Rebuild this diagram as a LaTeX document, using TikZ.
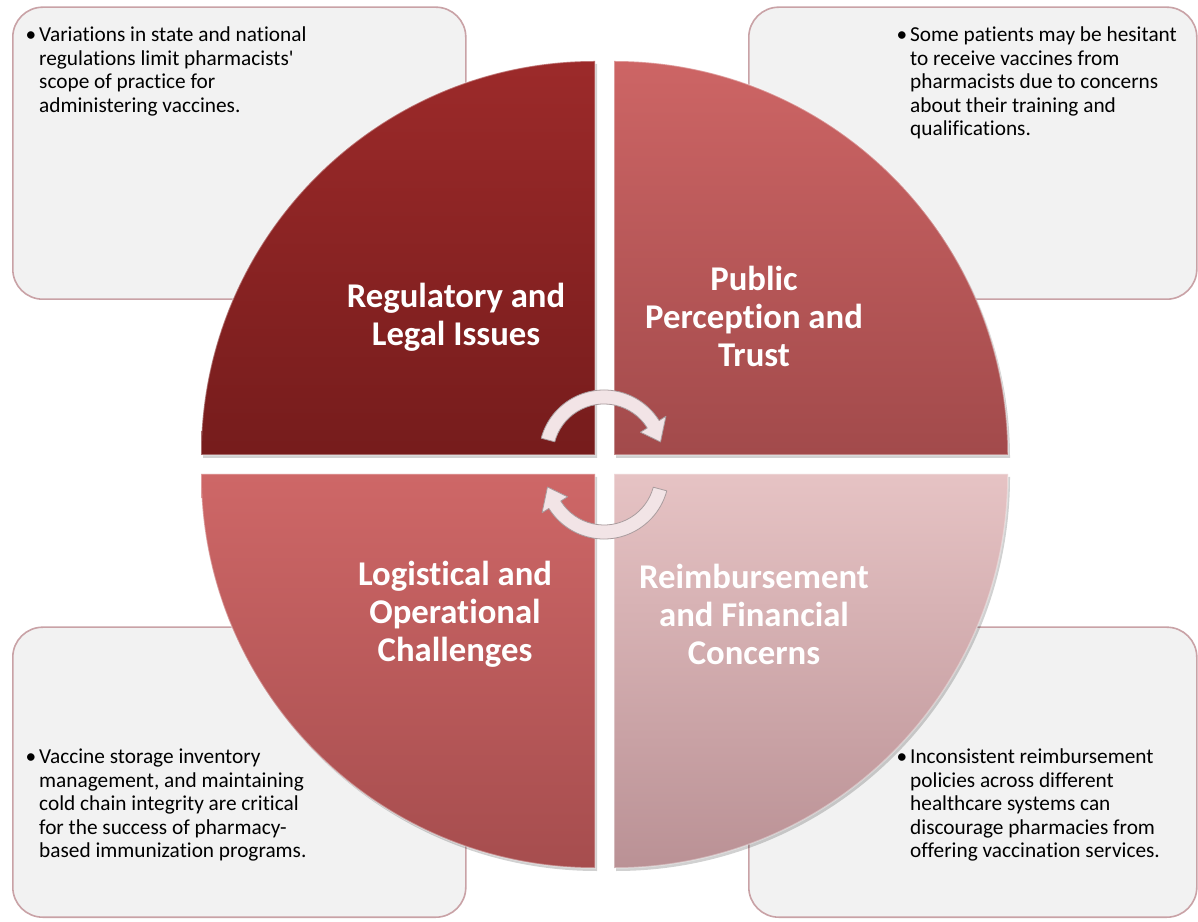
\documentclass[tikz,border=0pt]{standalone}
\usepackage{fontspec}
\setmainfont{Carlito}[Ligatures={TeX,NoCommon}]
\definecolor{boxfill}{HTML}{F2F2F2}
\definecolor{boxline}{HTML}{C9A2A6}
\definecolor{tlTop}{HTML}{9C2A2A}
\definecolor{tlBot}{HTML}{761C1C}
\definecolor{trTop}{HTML}{CD6565}
\definecolor{trBot}{HTML}{A24A4B}
\definecolor{blTop}{HTML}{CE6767}
\definecolor{blBot}{HTML}{A64D4E}
\definecolor{brTop}{HTML}{E6C3C4}
\definecolor{brBot}{HTML}{BA9195}
\definecolor{arrowfill}{HTML}{F2E4E6}
\definecolor{arrowline}{HTML}{A99C9E}
\begin{document}
\begin{tikzpicture}[x=1pt,y=1pt,
  infobox/.style={fill=boxfill, draw=boxline, line width=1.6pt, rounded corners=30pt,
    anchor=south west, inner sep=0pt},
  note/.style={anchor=north west, inner sep=0pt, align=left, text=black,
    font=\fontsize{21.3}{23.4}\selectfont},
  title/.style={align=center, text=white, font=\bfseries\fontsize{34.7}{38}\selectfont},
  quad/.style={draw=white, draw opacity=0.35, line width=1.5pt},
  qshadow/.style={fill=black, fill opacity=0.18},
  cyc/.style={fill=arrowfill, draw=arrowline, line width=0.8pt, line join=round}
]
\useasboundingbox (0,0) rectangle (1198,921);
\fill[white] (0,0) rectangle (1198,921);

% information panels in the four corners
\node[infobox, minimum width=453, minimum height=292] (boxTL) at (12,621) {};
\node[infobox, minimum width=448, minimum height=292] (boxTR) at (748,621) {};
\node[infobox, minimum width=453, minimum height=290] (boxBL) at (12,3) {};
\node[infobox, minimum width=448, minimum height=290] (boxBR) at (748,3) {};

% soft shadows under the four quarters
\fill[qshadow] (597,463) -- (203,463) arc[start angle=180, end angle=90, radius=394pt] -- cycle;
\fill[qshadow] (616,463) -- (616,857) arc[start angle=90, end angle=0, radius=394pt] -- cycle;
\fill[qshadow] (597,444) -- (203,444) arc[start angle=180, end angle=270, radius=394pt] -- cycle;
\fill[qshadow] (616,444) -- (1010,444) arc[start angle=0, end angle=-90, radius=394pt] -- cycle;

% the four quarters of the disc
\path[quad, top color=tlTop, bottom color=tlBot]
  (595,466) -- (201,466) arc[start angle=180, end angle=90, radius=394pt] -- cycle;
\path[quad, top color=trTop, bottom color=trBot]
  (614,466) -- (614,860) arc[start angle=90, end angle=0, radius=394pt] -- cycle;
\path[quad, top color=blTop, bottom color=blBot]
  (595,447) -- (201,447) arc[start angle=180, end angle=270, radius=394pt] -- cycle;
\path[quad, top color=brTop, bottom color=brBot]
  (614,447) -- (1008,447) arc[start angle=0, end angle=-90, radius=394pt] -- cycle;

% circular arrows in the middle
\begin{scope}[shift={(604,466)}]
  \path[cyc] (165:65pt) arc[start angle=165, end angle=32, radius=65pt]
    -- (32:73pt) -- (13:58pt) -- (32:43pt) -- (32:51pt)
    arc[start angle=32, end angle=165, radius=51pt] -- cycle;
\end{scope}
\begin{scope}[shift={(604,447)}]
  \path[cyc] (-15:65pt) arc[start angle=-15, end angle=-148, radius=65pt]
    -- (-148:73pt) -- (-167:58pt) -- (-148:43pt) -- (-148:51pt)
    arc[start angle=-148, end angle=-15, radius=51pt] -- cycle;
\end{scope}

% quarter titles
\node[title] (tRegulatory) at (456,604) {Regulatory and\\Legal Issues};
\node[title] (tPublic) at (754,605) {Public\\Perception and\\Trust};
\node[title] (tLogistical) at (455,307) {Logistical and\\Operational\\Challenges};
\node[title] (tReimb) at (754,307) {Reimbursement\\and Financial\\Concerns};

% panel texts
\node[note] (nRegulatory) at (39,894) {\llap{\textbullet\hspace{3pt}}Variations in state and national\\regulations limit pharmacists\textquotesingle\\scope of practice for\\administering vaccines.};
\node[note] (nPublic) at (910,894) {\llap{\textbullet\hspace{3pt}}Some patients may be hesitant\\to receive vaccines from\\pharmacists due to concerns\\about their training and\\qualifications.};
\node[note] (nLogistical) at (39,172) {\llap{\textbullet\hspace{3pt}}Vaccine storage inventory\\management, and maintaining\\cold chain integrity are critical\\for the success of pharmacy-\\based immunization programs.};
\node[note] (nReimb) at (910,172) {\llap{\textbullet\hspace{3pt}}Inconsistent reimbursement\\policies across different\\healthcare systems can\\discourage pharmacies from\\offering vaccination services.};
\end{tikzpicture}
\end{document}
